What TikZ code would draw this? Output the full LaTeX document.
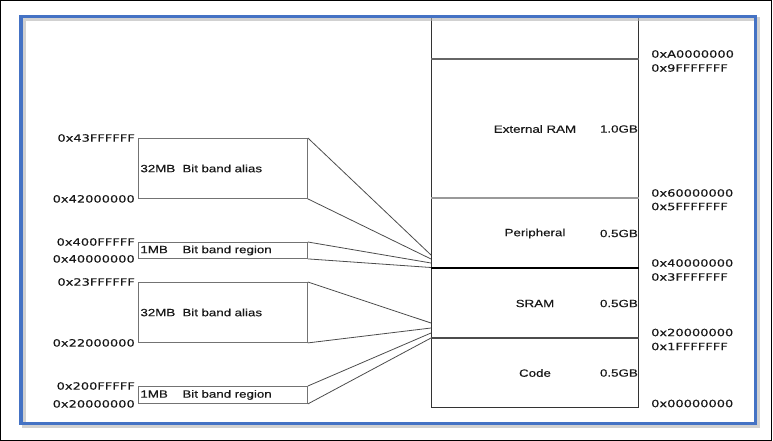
\documentclass[tikz,border=0pt]{standalone}
\usepackage{fontspec}
\setmainfont{Liberation Sans}[FakeStretch=1.27, FakeBold=0.4]
\newfontfamily\addrfont{DejaVu Sans}[FakeStretch=1.3, FakeBold=0.4]
\usepackage{tikz}
\usetikzlibrary{positioning,calc}
\definecolor{frameblue}{RGB}{68,114,196}

\begin{document}
\begin{tikzpicture}[
    x=1pt, y=-1pt,
    font=\fontsize{10.5}{12}\selectfont,
    region/.style={draw=black!80, line width=1pt, anchor=north west, minimum width=207pt, inner sep=0pt, text=black!90},
    band/.style={draw=black!55, line width=0.9pt, anchor=north west, text width=165pt, inner xsep=2pt, inner ysep=0pt, align=left, text=black!90},
    gbsize/.style={anchor=east, inner sep=1pt, text=black!90},
    addr/.style={font=\addrfont\fontsize{10}{12}\selectfont, text=black!90, inner sep=0pt},
    bound/.style={line width=1.8pt},
    link/.style={draw=black!70, line width=0.8pt}
  ]
  \useasboundingbox (0,0) rectangle (773,441);
  \draw[black, line width=1pt] (0.5,0.5) rectangle (771,440);
  % memory map
  \node[region, minimum height=42pt] (top) at (431,17) {};
  \node[region, minimum height=139pt] (ext) at (431,59) {External RAM};
  \node[region, minimum height=70pt] (peri) at (431,198) {Peripheral};
  \node[region, minimum height=70pt] (sram) at (431,268) {SRAM};
  \node[region, minimum height=69pt] (code) at (431,338) {Code};
  \draw[bound, black!60] (ext.north west) -- (ext.north east);
  \draw[bound, black!40] (peri.north west) -- (peri.north east);
  \draw[bound, black, line width=1.3pt] (sram.north west) -- (sram.north east);
  \draw[bound, black!70, line width=2.2pt] (code.north west) -- (code.north east);
  \node[gbsize] (extsz) at (ext.east) {1.0GB};
  \node[gbsize] (perisz) at (peri.east) {0.5GB};
  \node[gbsize] (sramsz) at (sram.east) {0.5GB};
  \node[gbsize] (codesz) at (code.east) {0.5GB};
  % bit band boxes
  \node[band, minimum height=60pt] (alias1) at (138,138) {\makebox[42pt][l]{32MB}Bit band alias};
  \node[band, minimum height=16pt] (reg1) at (138,242) {\makebox[42pt][l]{1MB}Bit band region};
  \node[band, minimum height=60pt] (alias2) at (138,282) {\makebox[42pt][l]{32MB}Bit band alias};
  \node[band, minimum height=17pt] (reg2) at (138,386) {\makebox[42pt][l]{1MB}Bit band region};
  % fan-in points
  \coordinate (t1) at (431,255);
  \coordinate (t2) at (431,259);
  \coordinate (t3) at (431,263);
  \coordinate (t4) at (431,267.5);
  \coordinate (t5) at (431,323);
  \coordinate (t6) at (431,328);
  \coordinate (t7) at (431,333);
  \coordinate (t8) at (431,338);
  \draw[link] (alias1.north east) -- (t1);
  \draw[link] (alias1.south east) -- (t2);
  \draw[link] (reg1.north east) -- (t3);
  \draw[link] (reg1.south east) -- (t4);
  \draw[link] (alias2.north east) -- (t5);
  \draw[link] (alias2.south east) -- (t6);
  \draw[link] (reg2.north east) -- (t7);
  \draw[link] (reg2.south east) -- (t8);
  % addresses, left
  \node[addr, anchor=east] (a43) at ([xshift=-3pt]alias1.north west) {0x43FFFFFF};
  \node[addr, anchor=east] (a42) at ([xshift=-3pt]alias1.south west) {0x42000000};
  \node[addr, anchor=east] (a400) at ([xshift=-3pt]reg1.north west) {0x400FFFFF};
  \node[addr, anchor=east] (a40) at ([xshift=-3pt]reg1.south west) {0x40000000};
  \node[addr, anchor=east] (a23) at ([xshift=-3pt]alias2.north west) {0x23FFFFFF};
  \node[addr, anchor=east] (a22) at ([xshift=-3pt]alias2.south west) {0x22000000};
  \node[addr, anchor=east] (a200) at ([xshift=-3pt]reg2.north west) {0x200FFFFF};
  \node[addr, anchor=east] (a20) at ([xshift=-3pt]reg2.south west) {0x20000000};
  % addresses, right
  \node[addr, anchor=west] (hA0) at ([shift={(12,-5)}]ext.north east) {0xA0000000};
  \node[addr, anchor=west] (h9F) at ([shift={(12,9)}]ext.north east) {0x9FFFFFFF};
  \node[addr, anchor=west] (h60) at ([shift={(12,-5)}]peri.north east) {0x60000000};
  \node[addr, anchor=west] (h5F) at ([shift={(12,8.5)}]peri.north east) {0x5FFFFFFF};
  \node[addr, anchor=west] (h40) at ([shift={(12,-5)}]sram.north east) {0x40000000};
  \node[addr, anchor=west] (h3F) at ([shift={(12,9)}]sram.north east) {0x3FFFFFFF};
  \node[addr, anchor=west] (h20) at ([shift={(12,-5.5)}]code.north east) {0x20000000};
  \node[addr, anchor=west] (h1F) at ([shift={(12,8.5)}]code.north east) {0x1FFFFFFF};
  \node[addr, anchor=west] (h00) at ([shift={(12,-4.5)}]code.south east) {0x00000000};
  % frame
  \draw[black!30, line width=4pt, opacity=0.6] (23.5,19) rectangle (758,426);
  \draw[frameblue, line width=3.5pt] (21,16.5) rectangle (755.5,423.5);
\end{tikzpicture}
\end{document}
